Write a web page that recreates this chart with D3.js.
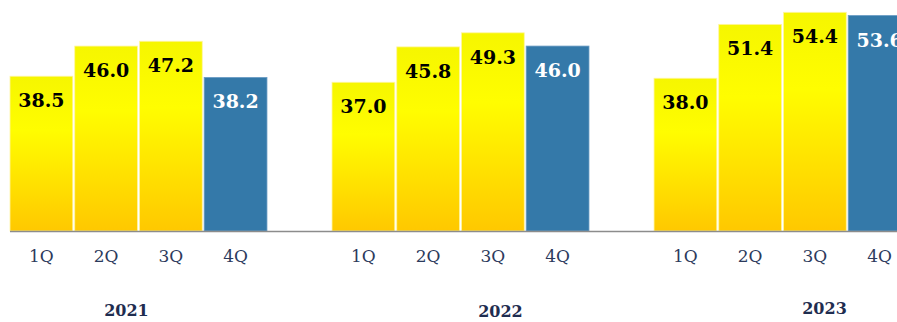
<!DOCTYPE html>
<html>
<head>
<meta charset="utf-8">
<script src="https://cdn.jsdelivr.net/npm/d3@7"></script>
<style>
  html, body { margin: 0; padding: 0; background: #fff; }
  svg { display: block; }
</style>
</head>
<body>
<svg id="chart" width="897" height="322"></svg>
<script>
// data
var years = ["2021", "2022", "2023"]
var quarters = ["1Q", "2Q", "3Q", "4Q"]
var values2021 = [38.5, 46.0, 47.2, 38.2]
var values2022 = [37.0, 45.8, 49.3, 46.0]
var values2023 = [38.0, 51.4, 54.4, 53.6]
var allValues = [values2021, values2022, values2023]

// layout bits (year captions sit a bit off-centre in the original)
var yearDx = [-12, 40, 42]
var yearDy = [0, 1, -2]

var width = 897,
    height = 322,
    baseY = 231

var svg = d3.select("#chart")

var defs = svg.append("defs")
var grad = defs.append("linearGradient")
    .attr("id", "yel")
    .attr("x1", 0).attr("y1", 0).attr("x2", 0).attr("y2", 1)
grad.append("stop").attr("offset", "0%").attr("stop-color", "#f6f600")
grad.append("stop").attr("offset", "35%").attr("stop-color", "#fffd00")
grad.append("stop").attr("offset", "100%").attr("stop-color", "#ffc800")

var xGroup = d3.scaleBand().domain(years).range([10, 911]).paddingInner(0.202).paddingOuter(0)
var xInner = d3.scaleBand().domain(quarters).range([0, xGroup.bandwidth()]).paddingInner(0.03)
var y = d3.scaleLinear().domain([0, 57.46]).range([baseY, 0])

var rows = []
years.forEach(function(yr, i) {
    quarters.forEach(function(q, j) {
        rows.push({year: yr, q: q, value: allValues[i][j], last: j == 3})
    })
})

var groups = svg.selectAll(".grp")
    .data(years)
    .enter().append("g")
    .attr("class", "grp")
    .attr("transform", function(d) { return "translate(" + xGroup(d) + ",0)" })

groups.selectAll("rect")
    .data(function(d) { return rows.filter(function(r) { return r.year == d }) })
    .enter().append("rect")
    .attr("x", function(d) { return xInner(d.q) })
    .attr("y", function(d) { return y(d.value) })
    .attr("width", xInner.bandwidth())
    .attr("height", function(d) { return baseY - y(d.value) })
    .attr("fill", function(d) { return d.last ? "#3479a9" : "url(#yel)" })
    .attr("stroke", function(d) { return d.last ? "#6a9cc4" : "#fff5a0" })
    .attr("stroke-width", 0.8)

groups.selectAll(".val")
    .data(function(d) { return rows.filter(function(r) { return r.year == d }) })
    .enter().append("text")
    .attr("class", "val")
    .attr("x", function(d) { return xInner(d.q) + xInner.bandwidth() / 2 })
    .attr("y", function(d) { return y(d.value) + 31 })
    .attr("text-anchor", "middle")
    .style("font-family", "'DejaVu Serif', Georgia, serif")
    .style("font-weight", "bold")
    .style("font-size", "19px")
    .attr("fill", function(d) { return d.last ? "#ffffff" : "#000000" })
    .text(function(d) { return d.value.toFixed(1) })

// quarter labels, one axis per year
groups.append("g")
    .attr("transform", "translate(0," + baseY + ")")
    .each(function() {
        var ax = d3.select(this).call(d3.axisBottom(xInner).tickSize(0).tickPadding(0))
        ax.select(".domain").remove()
        ax.selectAll("text")
            .attr("y", 31)
            .attr("dy", 0)
            .style("font-family", "'DejaVu Serif', Georgia, serif")
            .style("font-size", "17px")
            .attr("fill", "#2c3a5c")
    })

// year captions
groups.append("text")
    .attr("x", function(d, i) { return xGroup.bandwidth() / 2 + yearDx[i] })
    .attr("y", function(d, i) { return 316 + yearDy[i] })
    .attr("text-anchor", "middle")
    .style("font-family", "'DejaVu Serif', Georgia, serif")
    .style("font-weight", "bold")
    .style("font-size", "16px")
    .attr("fill", "#1f2d50")
    .text(function(d) { return d })

// baseline
svg.append("line")
    .attr("x1", 10).attr("x2", width)
    .attr("y1", baseY + 0.5).attr("y2", baseY + 0.5)
    .attr("stroke", "#8c8c8c")
    .attr("stroke-width", 1.5)
</script>
</body>
</html>
